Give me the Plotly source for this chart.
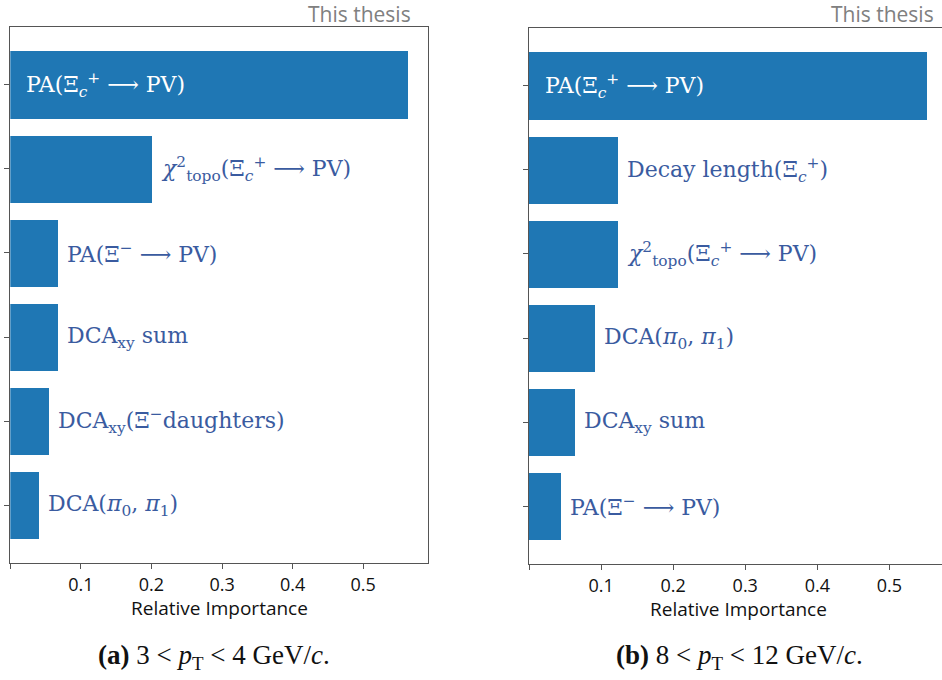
import plotly.graph_objects as go

# ---- data ----
left_features = ["PA_Xic", "chi2_topo", "PA_Xi", "DCAxy_sum", "DCAxy_Xi_dau", "DCA_pi"]
left_labels = [
    "PA(Ξ<sub><i>c</i></sub><sup>+</sup> ⟶ PV)",
    "<i>χ</i><sup>2</sup><sub>topo</sub>(Ξ<sub><i>c</i></sub><sup>+</sup> ⟶ PV)",
    "PA(Ξ<sup>−</sup> ⟶ PV)",
    "DCA<sub>xy</sub> sum",
    "DCA<sub>xy</sub>(Ξ<sup>−</sup>daughters)",
    "DCA(<i>π</i><sub>0</sub>, <i>π</i><sub>1</sub>)",
]
left_values = [0.564, 0.201, 0.068, 0.068, 0.055, 0.041]

right_features = ["PA_Xic", "DecayLength_Xic", "chi2_topo", "DCA_pi", "DCAxy_sum", "PA_Xi"]
right_labels = [
    "PA(Ξ<sub><i>c</i></sub><sup>+</sup> ⟶ PV)",
    "Decay length(Ξ<sub><i>c</i></sub><sup>+</sup>)",
    "<i>χ</i><sup>2</sup><sub>topo</sub>(Ξ<sub><i>c</i></sub><sup>+</sup> ⟶ PV)",
    "DCA(<i>π</i><sub>0</sub>, <i>π</i><sub>1</sub>)",
    "DCA<sub>xy</sub> sum",
    "PA(Ξ<sup>−</sup> ⟶ PV)",
]
right_values = [0.552, 0.123, 0.123, 0.091, 0.064, 0.044]

tick_vals = [0, 0.1, 0.2, 0.3, 0.4, 0.5]
tick_text = ["", "0.1", "0.2", "0.3", "0.4", "0.5"]
captions = ["<b>(a)</b> 3 &lt; <i>p</i><sub>T</sub> &lt; 4 GeV/<i>c</i>.",
            "<b>(b)</b> 8 &lt; <i>p</i><sub>T</sub> &lt; 12 GeV/<i>c</i>."]

W, H = 942, 680
BAR = "#1f77b4"
LBL = "#3a5ba0"
AX = "#555555"
LABEL_FONT = "DejaVu Serif"
SANS = "Open Sans"

fig = go.Figure()
fig.add_trace(go.Bar(x=left_values, y=left_features, orientation="h", width=0.8,
                     marker=dict(color=BAR, line=dict(width=0)), xaxis="x", yaxis="y",
                     hoverinfo="skip"))
fig.add_trace(go.Bar(x=right_values, y=right_features, orientation="h", width=0.8,
                     marker=dict(color=BAR, line=dict(width=0)), xaxis="x2", yaxis="y2",
                     hoverinfo="skip"))

n = len(left_features)
yr = [n - 1 + 0.4 + 0.29, -0.4 - 0.29]

def xax(domain, rng, anchor, mirror):
    return dict(domain=domain, range=rng, anchor=anchor, showline=True, linecolor=AX,
                linewidth=1, mirror=mirror, showgrid=False, zeroline=False,
                ticks="outside", ticklen=5, tickcolor=AX, tickwidth=1,
                tickvals=tick_vals, ticktext=tick_text,
                tickfont=dict(family=SANS, size=18, color="#111111"))

def yax(domain, anchor, mirror, feats):
    return dict(domain=domain, range=yr, anchor=anchor, showline=True, linecolor=AX,
                linewidth=1, mirror=mirror, showgrid=False, zeroline=False,
                type="category", categoryorder="array", categoryarray=feats,
                ticks="outside", ticklen=5, tickcolor=AX, tickwidth=1,
                showticklabels=False)

lx0, lx1 = 10.3 / W, 428.3 / W
rx0 = 529 / W
fig.update_layout(
    width=W, height=H, margin=dict(l=0, r=0, t=0, b=0),
    paper_bgcolor="white", plot_bgcolor="white", showlegend=False, bargap=0,
    xaxis=xax([lx0, lx1], [0, max(left_values) * 1.05], "y", True),
    yaxis=yax([1 - 563.3 / H, 1 - 26.7 / H], "x", True, left_features),
    xaxis2=xax([rx0, 1.0], [0, (W - 529) / 720.8], "y2", True),
    yaxis2=yax([1 - 564.3 / H, 1 - 27.7 / H], "x2", False, right_features),
)

ann = []
for feats, labels, vals, xa, ya in [(left_features, left_labels, left_values, "x", "y"),
                                    (right_features, right_labels, right_values, "x2", "y2")]:
    vmax = max(vals)
    for f, lab, v in zip(feats, labels, vals):
        if v == vmax:
            ann.append(dict(x=0, y=f, xref=xa, yref=ya, text=lab, showarrow=False,
                            xanchor="left", yanchor="middle", xshift=14,
                            font=dict(family=LABEL_FONT, size=22, color="white")))
        else:
            ann.append(dict(x=v, y=f, xref=xa, yref=ya, text=lab, showarrow=False,
                            xanchor="left", yanchor="middle", xshift=7,
                            font=dict(family=LABEL_FONT, size=22, color=LBL)))

# axis titles
for cx, cy in [((lx0 + lx1) / 2, 607.5), ((rx0 + 947 / W) / 2, 609)]:
    ann.append(dict(x=cx, y=1 - cy / H, xref="paper", yref="paper",
                    text="Relative Importance", showarrow=False, xanchor="center",
                    yanchor="middle", font=dict(family=SANS, size=19, color="#111111")))
# "This thesis"
for rx in [413 / W, 936 / W]:
    ann.append(dict(x=rx, y=1 - 14 / H, xref="paper", yref="paper", text="This thesis",
                    showarrow=False, xanchor="right", yanchor="middle",
                    font=dict(family=SANS, size=21, color="#808080")))
# captions
for cx, cap in zip([214 / W, 739 / W], captions):
    ann.append(dict(x=cx, y=1 - 657 / H, xref="paper", yref="paper", text=cap,
                    showarrow=False, xanchor="center", yanchor="middle",
                    font=dict(family="Liberation Serif", size=27, color="#111111")))

fig.update_layout(annotations=ann)
fig.write_html("out.html")
